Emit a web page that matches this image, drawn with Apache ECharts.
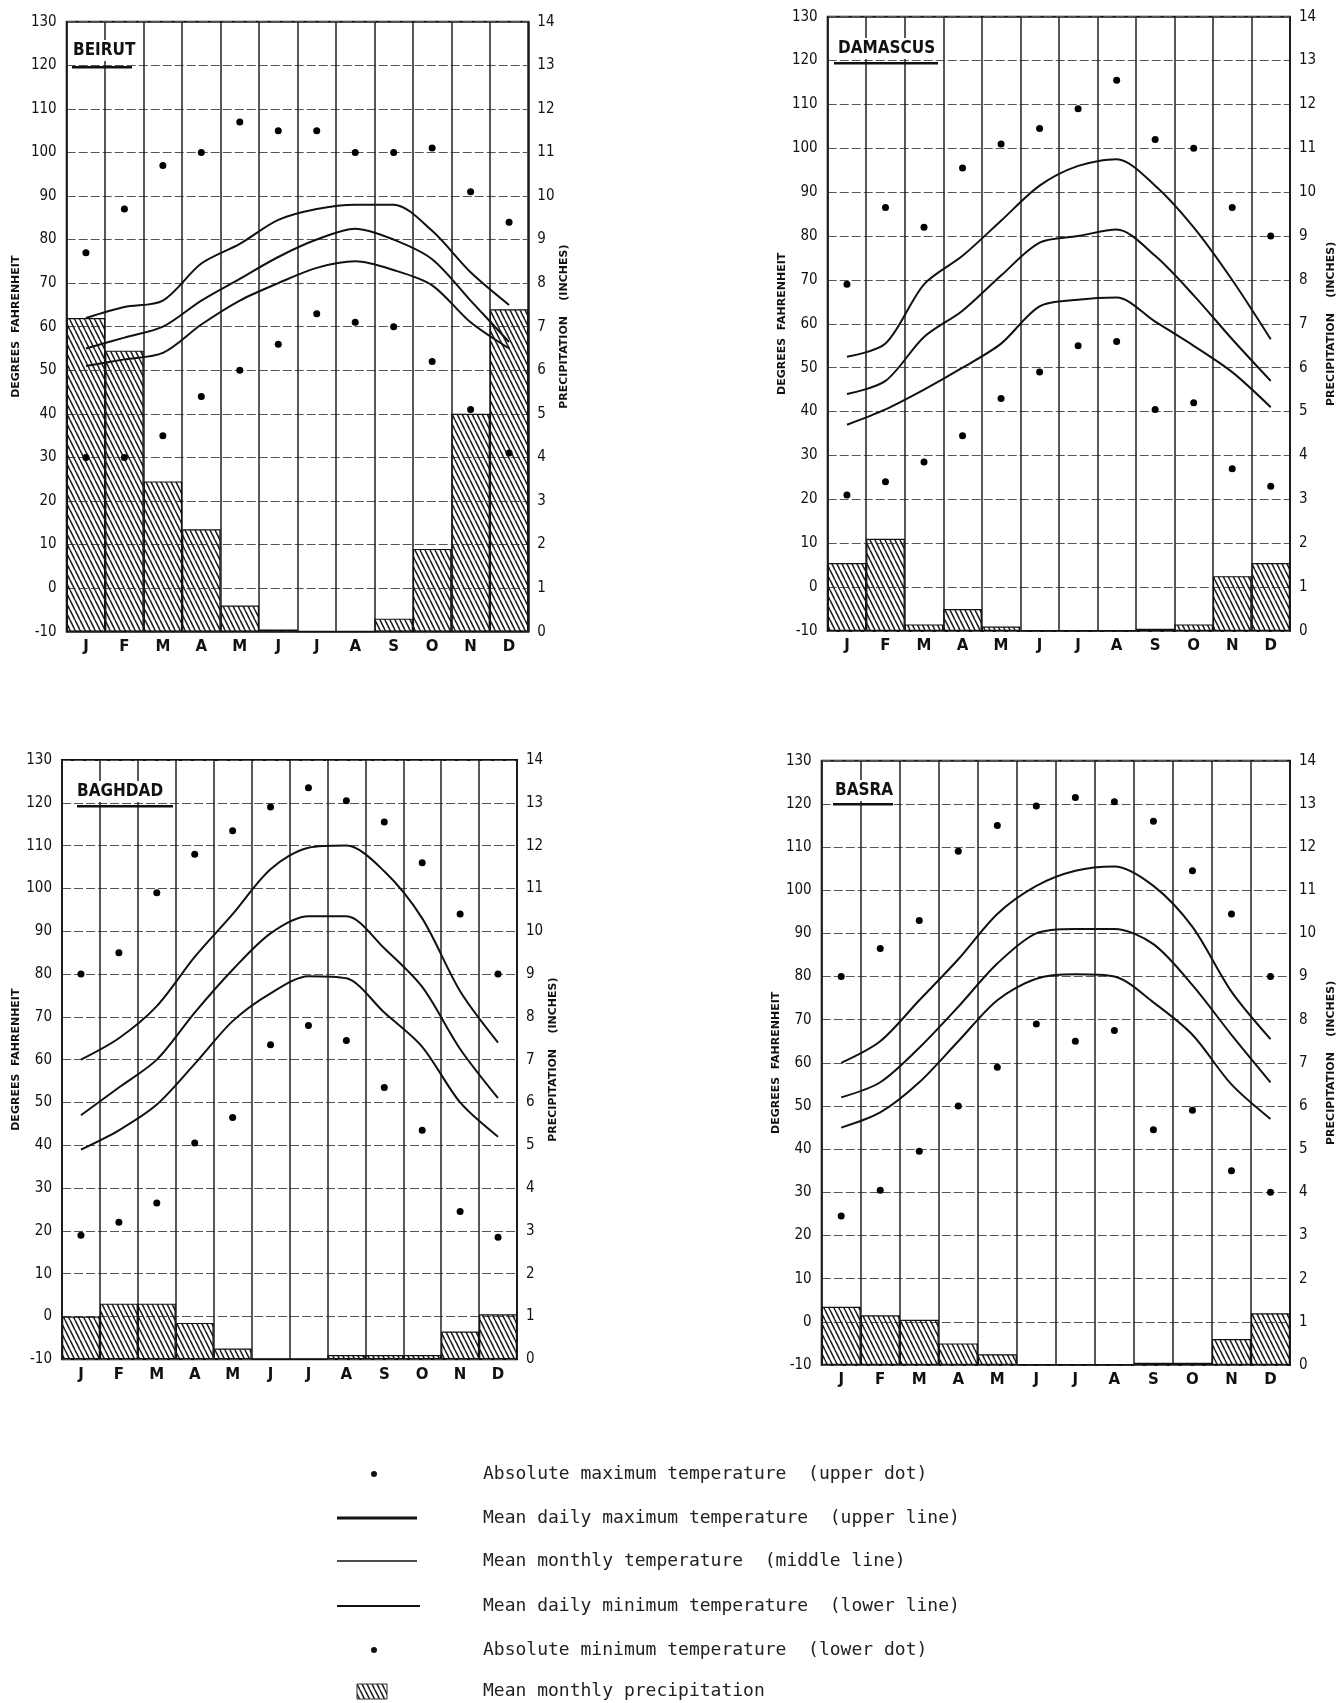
<!DOCTYPE html>
<html>
<head>
<meta charset="UTF-8">
<title>Climate charts</title>
<script src="https://cdn.jsdelivr.net/npm/echarts@6/dist/echarts.min.js"></script>
<style>
	html, body { margin: 0; padding: 0; background: #fff; }
	#main { width: 1338px; height: 1703px; }
</style>
</head>
<body>
<div id="main"></div>
<script type="text/javascript">
// categories and tick labels
var months = ['Jan', 'Feb', 'Mar', 'Apr', 'May', 'Jun', 'Jul', 'Aug', 'Sep', 'Oct', 'Nov', 'Dec'];
var monthLetters = ['J', 'F', 'M', 'A', 'M', 'J', 'J', 'A', 'S', 'O', 'N', 'D'];

// Beirut (deg F, precipitation in inches)
var beirutAbsMax   = [77, 87, 97, 100, 107, 105, 105, 100, 100, 101, 91, 84];
var beirutDailyMax = [62, 64.5, 66, 74.5, 79, 84.5, 87, 88, 88, 82, 72.5, 65];
var beirutMean     = [55, 57.5, 60, 66, 71, 76, 80, 82.5, 80, 75.5, 66, 56.5];
var beirutDailyMin = [51, 52.5, 54, 60.5, 66, 70, 73.5, 75, 73, 69.5, 61, 55];
var beirutAbsMin   = [30, 30, 35, 44, 50, 56, 63, 61, 60, 52, 41, 31];
var beirutRain     = [7.2, 6.45, 3.45, 2.35, 0.6, 0.05, 0, 0, 0.3, 1.9, 5.0, 7.4];

// Damascus
var damascusAbsMax   = [69, 86.5, 82, 95.5, 101, 104.5, 109, 115.5, 102, 100, 86.5, 80];
var damascusDailyMax = [52.5, 55.5, 69, 75.5, 83.5, 91.5, 96, 97.5, 91.5, 82, 70, 56.5];
var damascusMean     = [44, 47, 57, 63, 71, 78.5, 80, 81.5, 75.5, 66.5, 56.5, 47];
var damascusDailyMin = [37, 40.5, 45, 50, 55.5, 64, 65.5, 66, 60.5, 55, 49, 41];
var damascusAbsMin   = [21, 24, 28.5, 34.5, 43, 49, 55, 56, 40.5, 42, 27, 23];
var damascusRain     = [1.55, 2.1, 0.15, 0.5, 0.1, 0, 0, 0, 0.05, 0.15, 1.25, 1.55];

// Baghdad
var baghdadAbsMax   = [80, 85, 99, 108, 113.5, 119, 123.5, 120.5, 115.5, 106, 94, 80];
var baghdadDailyMax = [60, 65, 72.5, 84, 94, 104.5, 109.5, 110, 104, 93, 76, 64];
var baghdadMean     = [47, 53.5, 60, 71, 81, 89.5, 93.5, 93.5, 86, 77, 62.5, 51];
var baghdadDailyMin = [39, 43.5, 49.5, 59, 69, 75.5, 79.5, 79, 71, 63, 50, 42];
var baghdadAbsMin   = [19, 22, 26.5, 40.5, 46.5, 63.5, 68, 64.5, 53.5, 43.5, 24.5, 18.5];
var baghdadRain     = [1.0, 1.3, 1.3, 0.85, 0.25, 0, 0, 0.1, 0.1, 0.1, 0.65, 1.05];

// Basra
var basraAbsMax   = [80, 86.5, 93, 109, 115, 119.5, 121.5, 120.5, 116, 104.5, 94.5, 80];
var basraDailyMax = [60, 65, 74.5, 84, 94.5, 101, 104.5, 105.5, 101, 91.5, 76.5, 65.5];
var basraMean     = [52, 55.5, 63.5, 73, 83, 90, 91, 91, 87.5, 78, 66.5, 55.5];
var basraDailyMin = [45, 48.5, 55.5, 65, 74.5, 79.5, 80.5, 80, 74, 66.5, 55, 47];
var basraAbsMin   = [24.5, 30.5, 39.5, 50, 59, 69, 65, 67.5, 44.5, 49, 35, 30];
var basraRain     = [1.35, 1.15, 1.05, 0.5, 0.25, 0, 0, 0, 0.05, 0.05, 0.6, 1.2];

var legendTexts = [
	'Absolute maximum temperature  (upper dot)',
	'Mean daily maximum temperature  (upper line)',
	'Mean monthly temperature  (middle line)',
	'Mean daily minimum temperature  (lower line)',
	'Absolute minimum temperature  (lower dot)',
	'Mean monthly precipitation'
];

var cities = [
	{ name: 'BEIRUT', absMax: beirutAbsMax, dMax: beirutDailyMax, mean: beirutMean, dMin: beirutDailyMin, absMin: beirutAbsMin, rain: beirutRain },
	{ name: 'DAMASCUS', absMax: damascusAbsMax, dMax: damascusDailyMax, mean: damascusMean, dMin: damascusDailyMin, absMin: damascusAbsMin, rain: damascusRain },
	{ name: 'BAGHDAD', absMax: baghdadAbsMax, dMax: baghdadDailyMax, mean: baghdadMean, dMin: baghdadDailyMin, absMin: baghdadAbsMin, rain: baghdadRain },
	{ name: 'BASRA', absMax: basraAbsMax, dMax: basraDailyMax, mean: basraMean, dMin: basraDailyMin, absMin: basraAbsMin, rain: basraRain }
];

// layout of the four panels (pixels)
var panels = [
	{ left: 66.7, top: 21.7, width: 461.6, height: 610, nameL: 45, nameR: 28, titleX: 70, titleY: 40, ulX: 72, ulW: 60, ulY: 66 },
	{ left: 827.7, top: 16.7, width: 465, height: 614.3, nameL: 28, nameR: 36, titleX: 835, titleY: 38, ulX: 834, ulW: 104, ulY: 62 },
	{ left: 62, top: 760, width: 455, height: 599.3, nameL: 40, nameR: 31, titleX: 74, titleY: 781, ulX: 77, ulW: 96, ulY: 805 },
	{ left: 821.7, top: 760.7, width: 471, height: 604.3, nameL: 36, nameR: 36, titleX: 832, titleY: 780, ulX: 833, ulW: 60, ulY: 803 }
];

// diagonal hatch for the precipitation bars
function makeHatch() {
	var c = document.createElement('canvas');
	c.width = 5;
	c.height = 10;
	var ctx = c.getContext('2d');
	ctx.strokeStyle = '#1c1c1c';
	ctx.lineWidth = 1.5;
	for (var k = -1; k <= 1; k++) {
		ctx.beginPath();
		ctx.moveTo(k * 5, 0);
		ctx.lineTo(k * 5 + 5, 10);
		ctx.stroke();
	}
	return c;
}
var hatch = { image: makeHatch(), repeat: 'repeat' };

var ink = '#111';
var grid = [], xAxis = [], yAxis = [], series = [], title = [], graphic = [];

function pairs(arr) {
	return arr.map(function (v, i) { return [i, v]; });
}

cities.forEach(function (city, i) {
	var p = panels[i];
	grid.push({
		left: p.left, top: p.top, width: p.width, height: p.height,
		show: true, borderColor: '#111', borderWidth: 2, backgroundColor: 'transparent'
	});
	xAxis.push({
		gridIndex: i,
		type: 'category',
		data: months,
		boundaryGap: true,
		axisLine: { show: false },
		axisTick: { show: false },
		axisLabel: {
			interval: 0, margin: 8,
			formatter: function (v, idx) { return monthLetters[idx]; },
			fontSize: 15, fontWeight: 'bold', fontFamily: 'DejaVu Sans', color: ink
		},
		splitLine: { show: true, interval: 0, lineStyle: { color: '#222', width: 1.5 } }
	});
	yAxis.push({
		gridIndex: i,
		type: 'value',
		position: 'left',
		min: -10, max: 130, interval: 10,
		name: 'DEGREES  FAHRENHEIT',
		nameLocation: 'middle', nameGap: p.nameL, nameRotate: 90,
		nameTextStyle: { fontSize: 11, fontWeight: 'bold', fontFamily: 'DejaVu Sans', color: ink },
		axisLine: { show: false },
		axisTick: { show: false },
		axisLabel: { margin: 10, fontSize: 15, fontFamily: 'DejaVu Sans Condensed', color: ink },
		splitLine: { show: true, lineStyle: { color: '#555', width: 1.2, type: [9, 3] } }
	});
	yAxis.push({
		gridIndex: i,
		type: 'value',
		position: 'right',
		min: 0, max: 14, interval: 1,
		name: 'PRECIPITATION    (INCHES)',
		nameLocation: 'middle', nameGap: p.nameR, nameRotate: 90,
		nameTextStyle: { fontSize: 11, fontWeight: 'bold', fontFamily: 'DejaVu Sans', color: ink },
		axisLine: { show: false },
		axisTick: { show: false },
		axisLabel: { margin: 9, fontSize: 15, fontFamily: 'DejaVu Sans Condensed', color: ink },
		splitLine: { show: false }
	});

	series.push({
		name: legendTexts[5], type: 'bar',
		xAxisIndex: i, yAxisIndex: 2 * i + 1,
		data: city.rain,
		barCategoryGap: '0%',
		itemStyle: { color: hatch, borderColor: '#111', borderWidth: 1.2 },
		z: 1
	});
	[city.dMax, city.mean, city.dMin].forEach(function (d, k) {
		series.push({
			name: legendTexts[k + 1], type: 'line',
			xAxisIndex: i, yAxisIndex: 2 * i,
			data: d,
			symbol: 'none',
			smooth: 0.3,
			lineStyle: { color: '#111', width: 2 },
			z: 3
		});
	});
	series.push({
		name: legendTexts[0], type: 'scatter',
		xAxisIndex: i, yAxisIndex: 2 * i,
		data: pairs(city.absMax),
		symbolSize: 7, itemStyle: { color: '#000', opacity: 1 }, z: 4
	});
	series.push({
		name: legendTexts[4], type: 'scatter',
		xAxisIndex: i, yAxisIndex: 2 * i,
		data: pairs(city.absMin),
		symbolSize: 7, itemStyle: { color: '#000', opacity: 1 }, z: 4
	});

	title.push({
		text: city.name, left: p.titleX, top: p.titleY,
		backgroundColor: '#fff', padding: [2, 3, 2, 3],
		textStyle: { fontSize: 17, fontWeight: 'bold', fontFamily: 'DejaVu Sans Condensed', color: ink }
	});
	graphic.push({
		type: 'rect', z: 100,
		shape: { x: p.ulX, y: p.ulY, width: p.ulW, height: 2.5 },
		style: { fill: '#111' }
	});
});

// legend drawn underneath the panels
var rowY = [1474, 1518, 1561, 1606, 1650, 1691];
graphic.push({ type: 'circle', shape: { cx: 374, cy: rowY[0], r: 3 }, style: { fill: '#111' } });
graphic.push({ type: 'line', shape: { x1: 337, y1: rowY[1], x2: 417, y2: rowY[1] }, style: { stroke: '#111', lineWidth: 3 } });
graphic.push({ type: 'line', shape: { x1: 337, y1: rowY[2], x2: 417, y2: rowY[2] }, style: { stroke: '#111', lineWidth: 1.5 } });
graphic.push({ type: 'line', shape: { x1: 337, y1: rowY[3], x2: 420, y2: rowY[3] }, style: { stroke: '#111', lineWidth: 2 } });
graphic.push({ type: 'circle', shape: { cx: 374, cy: rowY[4], r: 3 }, style: { fill: '#111' } });
graphic.push({ type: 'rect', shape: { x: 357, y: rowY[5] - 7, width: 30, height: 15 }, style: { fill: hatch, stroke: '#333', lineWidth: 1 } });
legendTexts.forEach(function (t, k) {
	graphic.push({
		type: 'text', x: 483, y: rowY[k],
		style: {
			text: t, fill: '#222',
			font: '18px "DejaVu Sans Mono"',
			verticalAlign: 'middle', textVerticalAlign: 'middle'
		}
	});
});

var myChart = echarts.init(document.getElementById('main'));
var option = {
	animation: false,
	backgroundColor: '#fff',
	title: title,
	grid: grid,
	xAxis: xAxis,
	yAxis: yAxis,
	series: series,
	graphic: graphic
};
myChart.setOption(option);
</script>
</body>
</html>
